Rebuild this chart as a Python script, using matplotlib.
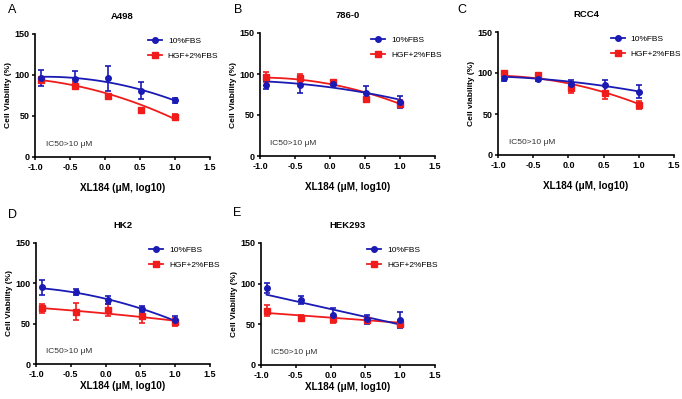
import numpy as np
import matplotlib
matplotlib.use("Agg")
import matplotlib.pyplot as plt

plt.rcParams['font.family'] = ['Liberation Sans', 'DejaVu Sans']

x_log = [-0.92, -0.43, 0.04, 0.52, 1.0]

panels = ["A", "B", "C", "D", "E"]
titles = ["A498", "786-0", "RCC4", "HK2", "HEK293"]
ylabels = ["Cell Viability (%)", "Cell Viability (%)", "Cell viability (%)",
           "Cell Viability (%)", "Cell Viability (%)"]

fbs10_mean = [
    [96, 95, 96, 81, 69],
    [87, 87, 88, 77, 66],
    [94, 93, 87, 85, 77],
    [95, 89, 79, 68, 54],
    [95, 80, 62, 56, 55],
]
fbs10_err = [
    [10, 10, 15, 10, 3],
    [5, 10, 2, 8, 7],
    [4, 3, 4, 7, 8],
    [9, 4, 5, 4, 5],
    [6, 5, 8, 5, 10],
]
hgf_mean = [
    [94, 87, 74, 57, 49],
    [96, 95, 90, 69, 64],
    [100, 97, 82, 76, 61],
    [69, 65, 67, 59, 52],
    [67, 58, 57, 55, 51],
]
hgf_err = [
    [4, 4, 3, 2, 3],
    [6, 5, 3, 3, 4],
    [3, 3, 6, 8, 5],
    [6, 11, 8, 8, 5],
    [7, 3, 5, 3, 4],
]
# fitted-curve values at the same doses
fbs10_fit = [
    [98, 96, 91, 82.5, 68.5],
    [91, 87.6, 84, 76.4, 68.8],
    [95.5, 93, 89, 84.4, 77.4],
    [93.8, 88.5, 80.3, 68, 53.6],
    [86.5, 77, 68, 59, 49.6],
]
hgf_fit = [
    [93.5, 88, 76.5, 63.4, 46.3],
    [95.6, 92.8, 87.6, 76.8, 63.6],
    [96.7, 93, 86.5, 76.6, 62],
    [69.3, 66, 62.3, 58.2, 53.6],
    [64, 61, 58, 55, 52],
]

x_ticks = [-1.0, -0.5, 0.0, 0.5, 1.0, 1.5]
y_ticks = [0, 50, 100, 150]
legend_labels = ["10%FBS", "HGF+2%FBS"]
ic50_text = "IC50>10 \u03bcM"
xlabel = "XL184 (\u03bcM, log10)"

BLUE = "#1a1ab4"
RED = "#f01c1c"

W, H = 682, 399
fig = plt.figure(figsize=(W / 100, H / 100), dpi=100)

# axes boxes in pixels: left, top, right, bottom
boxes = [
    (35, 34, 210, 157),
    (260, 33, 435, 156),
    (498, 32, 674, 155),
    (36, 243, 210, 364),
    (261, 243, 435, 365),
]
legend_x = [0.645, 0.635, 0.64, 0.65, 0.61]
xlabel_pad = [8, 8, 8, 1.5, 1.5]
letter_pos = [(12, 10), (238, 10), (462, 10), (12, 215), (237, 213)]

for i in range(5):
    l, t, r, b = boxes[i]
    ax = fig.add_axes([l / W, 1 - b / H, (r - l) / W, (b - t) / H])
    x = np.array(x_log)
    xs = np.linspace(x.min(), x.max(), 100)

    series = [(hgf_mean[i], hgf_err[i], hgf_fit[i], RED, 's', legend_labels[1]),
              (fbs10_mean[i], fbs10_err[i], fbs10_fit[i], BLUE, 'o', legend_labels[0])]
    handles = {}
    for mean, err, fit, col, mk, lab in series:
        coef = np.polyfit(x, np.array(fit, float), 2)
        ax.plot(xs, np.polyval(coef, xs), color=col, lw=1.3, zorder=2)
        ax.errorbar(x, mean, yerr=err, fmt=mk, color=col, ms=4,
                    elinewidth=1.2, capsize=2.2, capthick=1.2, zorder=3)
        h, = ax.plot([], [], color=col, marker=mk, ms=4, lw=1.3)
        handles[lab] = h

    ax.set_xlim(-1.0, 1.5)
    ax.set_ylim(0, 150)
    ax.set_xticks(x_ticks)
    ax.set_xticklabels([f"{v:.1f}" for v in x_ticks])
    ax.set_yticks(y_ticks)
    for s in ["top", "right"]:
        ax.spines[s].set_visible(False)
    for s in ["left", "bottom"]:
        ax.spines[s].set_linewidth(1.2)
    ax.tick_params(direction='out', length=2.5, width=1.1, pad=1.5,
                   labelsize=6.5)
    for lab in ax.get_xticklabels() + ax.get_yticklabels():
        lab.set_fontweight('bold')

    ax.set_xlabel(xlabel, fontsize=7.2, fontweight='bold', labelpad=xlabel_pad[i])
    ax.set_ylabel(ylabels[i], fontsize=6, fontweight='bold', labelpad=1.5)
    ax.set_title(titles[i], fontsize=6.8, fontweight='bold', pad=11)

    ax.legend([handles[legend_labels[0]], handles[legend_labels[1]]],
              legend_labels, loc='upper left',
              bbox_to_anchor=(legend_x[i], 0.975),
              frameon=False, fontsize=6, handlelength=1.7,
              borderaxespad=0, borderpad=0, labelspacing=0.9,
              handletextpad=0.7)

    ax.text(0.06, 0.1, ic50_text, transform=ax.transAxes, fontsize=6,
            ha='left', va='center', color='#333333')

    lx, ly = letter_pos[i]
    fig.text(lx / W, 1 - ly / H, panels[i], fontsize=9,
             ha='center', va='center')

fig.savefig("out.png", dpi=100)
